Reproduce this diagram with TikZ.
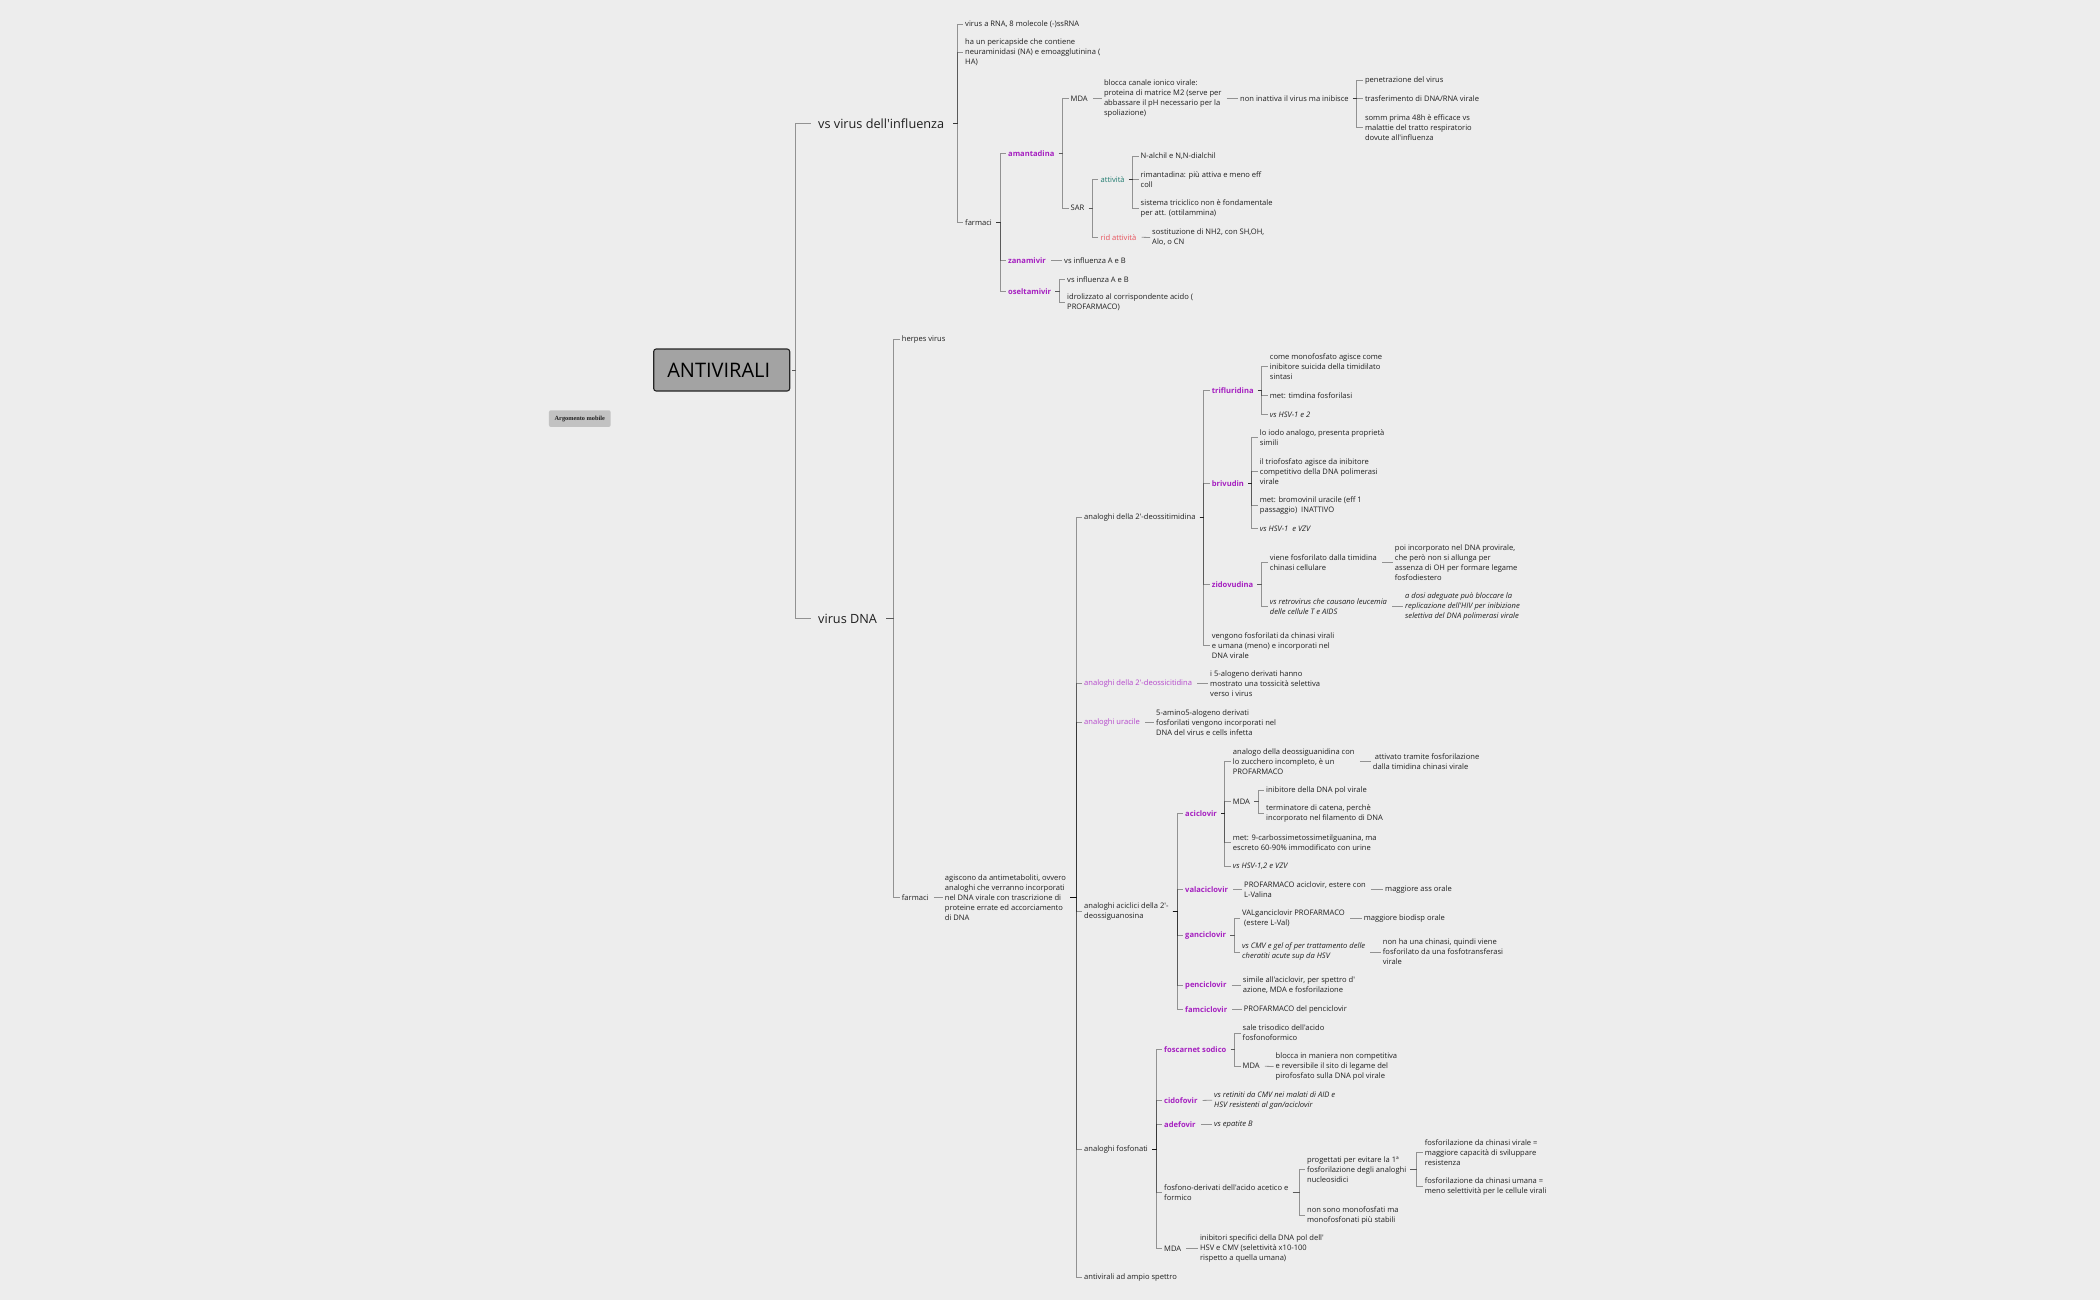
\documentclass[tikz,border=0pt]{standalone}
\usepackage{fontspec}
\usetikzlibrary{calc}
\newfontfamily\opensans{Open Sans}
\newfontfamily\tagserif{Liberation Serif}
\definecolor{canvas}{HTML}{EDEDED}
\definecolor{ink}{HTML}{1F1F1F}
\definecolor{drugcol}{HTML}{A51FC0}
\definecolor{classcol}{HTML}{B445CC}
\definecolor{goodcol}{HTML}{1E7A6E}
\definecolor{badcol}{HTML}{E8515B}
\tikzset{
	txt/.style={anchor=west, inner xsep=2pt, inner ysep=0pt, align=left, text=ink, font=\opensans\fontsize{7.58}{10}\selectfont},
	ital/.style={txt, font=\opensans\itshape\fontsize{7.58}{10}\selectfont},
	drug/.style={txt, text=drugcol, font=\opensans\bfseries\fontsize{7.58}{10}\selectfont},
	topic/.style={anchor=west, inner xsep=7pt, inner ysep=0pt, text=ink, font=\opensans\fontsize{12.7}{16}\selectfont},
	link/.style={draw=black, opacity=0.38, line width=0.8pt, shorten <=2pt},
	lead/.style={link, shorten <=3pt},
	elbow/.style={to path={-| ($(\tikztotarget)+(-#1,0)$) -- (\tikztotarget)}},
	elbow/.default=6
}
\begin{document}
\begin{tikzpicture}[x=1pt, y=-1pt]
	\fill[canvas] (0,-1.2) rectangle (2100,1298.8);
	\useasboundingbox (0,-1.2) rectangle (2100,1298.8);

	\node (tag) at (579.8,417.4) [rectangle, rounded corners=2pt, fill=black!24, minimum width=61.7pt, minimum height=16.7pt, inner sep=0pt, text=ink, font=\tagserif\bfseries\fontsize{6.3}{8}\selectfont] {Argomento mobile};
	\node (root) at (721.7,368.8) [rectangle, rounded corners=2.5pt, draw=black!85, line width=1.1pt, fill=black!36, minimum width=136pt, minimum height=42pt, inner sep=0pt, text=black, font=\opensans\fontsize{20}{24}\selectfont] {ANTIVIRALI\hspace{6pt}\null};

	\node (flu) at (811,122.3) [topic] {vs virus dell'influenza};
	\node (dna) at (811,617.3) [topic] {virus DNA};

	% influenza
	\node (rna) at (963,23.3) [txt] {virus a RNA, 8 molecole (-)ssRNA};
	\node (peri) at (963,51.3) [txt] {ha un pericapside che contiene\\neuraminidasi (NA) e emoagglutinina (\\HA)};
	\node (farmA) at (963,221) [txt] {farmaci};
	\node (amant) at (1006,152.3) [drug] {amantadina};
	\node (zana) at (1006,259.3) [drug] {zanamivir};
	\node (osel) at (1006,290) [drug] {oseltamivir};
	\node (mdaA) at (1068.5,97.3) [txt] {MDA};
	\node (sarA) at (1068.5,207) [txt] {SAR};
	\node (canale) at (1101.8,97.3) [txt] {blocca canale ionico virale:\\proteina di matrice M2 (serve per\\abbassare il pH necessario per la\\spoliazione)};
	\node (inatt) at (1238,97.3) [txt] {non inattiva il virus ma inibisce};
	\node (penet) at (1362.8,79.3) [txt] {penetrazione del virus};
	\node (trasf) at (1362.8,97.3) [txt] {trasferimento di DNA/RNA virale};
	\node (somm) at (1362.8,126.3) [txt] {somm prima 48h è efficace vs\\malattie del tratto respiratorio\\dovute all'influenza};
	\node (attiv) at (1098.4,178.3) [txt, text=goodcol] {attività};
	\node (ridatt) at (1098.4,236) [txt, text=badcol] {rid attività};
	\node (alchil) at (1138.5,155.3) [txt] {N-alchil e N,N-dialchil};
	\node (rimant) at (1138.5,178.3) [txt] {rimantadina: più attiva e meno eff\\coll};
	\node (tricic) at (1138.5,207.3) [txt] {sistema triciclico non è fondamentale\\per att. (ottilammina)};
	\node (sostit) at (1150,236.3) [txt] {sostituzione di NH2, con SH,OH,\\Alo, o CN};
	\node (zanaAB) at (1062,259.3) [txt] {vs influenza A e B};
	\node (oselAB) at (1065,278.3) [txt] {vs influenza A e B};
	\node (idrol) at (1065,301.3) [txt] {idrolizzato al corrispondente acido (\\PROFARMACO)};

	% virus DNA
	\node (herpes) at (899.7,338.3) [txt] {herpes virus};
	\node (farmB) at (899.7,896) [txt] {farmaci};
	\node (antim) at (942.7,896) [txt] {agiscono da antimetaboliti, ovvero\\analoghi che verranno incorporati\\nel DNA virale con trascrizione di\\proteine errate ed accorciamento\\di DNA};
	\node (timid) at (1082,516.3) [txt] {analoghi della 2'-deossitimidina};
	\node (citid) at (1082,682.3) [txt, text=classcol] {analoghi della 2'-deossicitidina};
	\node (uracil) at (1082,721.3) [txt, text=classcol] {analoghi uracile};
	\node (acicl) at (1082,910.3) [txt] {analoghi aciclici della 2'-\\deossiguanosina};
	\node (fosfon) at (1082,1148.3) [txt] {analoghi fosfonati};
	\node (ampio) at (1082,1276.3) [txt] {antivirali ad ampio spettro};

	% timidina
	\node (triflu) at (1209.7,389.3) [drug] {trifluridina};
	\node (brivu) at (1209.7,482.3) [drug] {brivudin};
	\node (zidov) at (1209.7,583) [drug] {zidovudina};
	\node (vengono) at (1209.7,644.3) [txt] {vengono fosforilati da chinasi virali\\e umana (meno) e incorporati nel\\DNA virale};
	\node (mono) at (1267.7,365.3) [txt] {come monofosfato agisce come\\inibitore suicida della timidilato\\sintasi};
	\node (timdina) at (1267.7,394) [txt] {met: timdina fosforilasi};
	\node (hsvA) at (1267.7,413.3) [ital] {vs HSV-1 e 2};
	\node (iodo) at (1257.7,436.3) [txt] {lo iodo analogo, presenta proprietà\\simili};
	\node (trifos) at (1257.7,470) [txt] {il triofosfato agisce da inibitore\\competitivo della DNA polimerasi\\virale};
	\node (bromo) at (1257.7,504.3) [txt] {met: bromovinil uracile (eff 1\\passaggio)\ \ INATTIVO};
	\node (hsvB) at (1257.7,527.3) [ital] {vs HSV-1\ \ e VZV};
	\node (viene) at (1267.7,561.3) [txt] {viene fosforilato dalla timidina\\chinasi cellulare};
	\node (provir) at (1392.7,561.3) [txt] {poi incorporato nel DNA provirale,\\che però non si allunga per\\assenza di OH per formare legame\\fosfodiestero};
	\node (retro) at (1267.7,605.3) [ital] {vs retrovirus che causano leucemia\\delle cellule T e AIDS};
	\node (dosi) at (1403,605.3) [ital] {a dosi adeguate può bloccare la\\replicazione dell'HIV per inibizione\\selettiva del DNA polimerasi virale};

	% citidina, uracile
	\node (alogeno) at (1208,682.3) [txt] {i 5-alogeno derivati hanno\\mostrato una tossicità selettiva\\verso i virus};
	\node (amino) at (1154,721.3) [txt] {5-amino5-alogeno derivati\\fosforilati vengono incorporati nel\\DNA del virus e cells infetta};

	% aciclici
	\node (aciclo) at (1183,812.3) [drug] {aciclovir};
	\node (valac) at (1183,888.3) [drug] {valaciclovir};
	\node (ganci) at (1183,934.3) [drug] {ganciclovir};
	\node (penci) at (1183,984.3) [drug] {penciclovir};
	\node (famci) at (1183,1008.3) [drug] {famciclovir};
	\node (analogo) at (1230.7,760.3) [txt] {analogo della deossiguanidina con\\lo zucchero incompleto, è un\\PROFARMACO};
	\node (tramite) at (1370.7,760.3) [txt] {\hspace*{2pt}attivato tramite fosforilazione\\dalla timidina chinasi virale};
	\node (mdaB) at (1230.7,800.3) [txt] {MDA};
	\node (inib) at (1264,789.3) [txt] {inibitore della DNA pol virale};
	\node (termin) at (1264,812.3) [txt] {terminatore di catena, perchè\\incorporato nel filamento di DNA};
	\node (carboss) at (1230.7,841.3) [txt] {met: 9-carbossimetossimetilguanina, ma\\escreto 60-90\% immodificato con urine};
	\node (hsvC) at (1230.7,865.3) [ital] {vs HSV-1,2 e VZV};
	\node (valina) at (1242,888.3) [txt] {PROFARMACO aciclovir, estere con\\L-Valina};
	\node (assor) at (1383,888.3) [txt] {maggiore ass orale};
	\node (valgan) at (1240,917.3) [txt] {VALganciclovir PROFARMACO\\\hspace*{2pt}(estere L-Val)};
	\node (biodisp) at (1361.7,917.3) [txt] {maggiore biodisp orale};
	\node (cmv) at (1240,950.7) [ital] {vs CMV e gel of per trattamento delle\\cheratiti acute sup da HSV};
	\node (nochin) at (1380.7,950.7) [txt] {non ha una chinasi, quindi viene\\fosforilato da una fosfotransferasi\\virale};
	\node (simile) at (1240.7,984.3) [txt] {simile all'aciclovir, per spettro d'\\azione, MDA e fosforilazione};
	\node (delpen) at (1241.7,1008.3) [txt] {PROFARMACO del penciclovir};

	% fosfonati
	\node (foscar) at (1162,1048.3) [drug] {foscarnet sodico};
	\node (cidof) at (1162,1099.3) [drug] {cidofovir};
	\node (adef) at (1162,1123.3) [drug] {adefovir};
	\node (deriv) at (1162,1191.3) [txt] {fosfono-derivati dell'acido acetico e\\formico};
	\node (mdaD) at (1162,1247.3) [txt] {MDA};
	\node (sale) at (1240.5,1031.7) [txt] {sale trisodico dell'acido\\fosfonoformico};
	\node (mdaC) at (1240.5,1065) [txt] {MDA};
	\node (blocca) at (1273.5,1065.3) [txt] {blocca in maniera non competitiva\\e reversibile il sito di legame del\\pirofosfato sulla DNA pol virale};
	\node (retin) at (1212,1099) [ital] {vs retiniti da CMV nei malati di AID e\\HSV resistenti al gan/aciclovir};
	\node (epat) at (1212,1123.3) [ital] {vs epatite B};
	\node (proget) at (1304.9,1168.3) [txt] {progettati per evitare la 1ª\\fosforilazione degli analoghi\\nucleosidici};
	\node (nomono) at (1304.9,1214.3) [txt] {non sono monofosfati ma\\monofosfonati più stabili};
	\node (chinv) at (1422.6,1151.3) [txt] {fosforilazione da chinasi virale =\\maggiore capacità di sviluppare\\resistenza};
	\node (chinu) at (1422.6,1185.3) [txt] {fosforilazione da chinasi umana =\\meno selettività per le cellule virali};
	\node (specif) at (1197.8,1247.3) [txt] {inibitori specifici della DNA pol dell'\\HSV e CMV (selettività x10-100\\rispetto a quella umana)};

	\draw[link] (root.east) to[elbow=16] (flu.west);
	\draw[link] (root.east) to[elbow=16] (dna.west);

	\draw[link] (flu.east) to[elbow] (rna.west);
	\draw[link] (flu.east) to[elbow] (peri.west);
	\draw[link] (flu.east) to[elbow] (farmA.west);
	\draw[link] (farmA.east) to[elbow] (amant.west);
	\draw[link] (farmA.east) to[elbow] (zana.west);
	\draw[link] (farmA.east) to[elbow] (osel.west);
	\draw[link] (amant.east) to[elbow] (mdaA.west);
	\draw[link] (amant.east) to[elbow] (sarA.west);
	\draw[lead] (mdaA.east) -- (canale.west);
	\draw[lead] (canale.east) -- (inatt.west);
	\draw[link] (inatt.east) to[elbow] (penet.west);
	\draw[link] (inatt.east) to[elbow] (trasf.west);
	\draw[link] (inatt.east) to[elbow] (somm.west);
	\draw[link] (sarA.east) to[elbow] (attiv.west);
	\draw[link] (sarA.east) to[elbow] (ridatt.west);
	\draw[link] (attiv.east) to[elbow] (alchil.west);
	\draw[link] (attiv.east) to[elbow] (rimant.west);
	\draw[link] (attiv.east) to[elbow] (tricic.west);
	\draw[lead] (ridatt.east) -- (sostit.west);
	\draw[lead] (zana.east) -- (zanaAB.west);
	\draw[link] (osel.east) to[elbow] (oselAB.west);
	\draw[link] (osel.east) to[elbow] (idrol.west);

	\draw[link] (dna.east) to[elbow] (herpes.west);
	\draw[link] (dna.east) to[elbow] (farmB.west);
	\draw[lead] (farmB.east) -- (antim.west);
	\draw[link] (antim.east) to[elbow] (timid.west);
	\draw[link] (antim.east) to[elbow] (citid.west);
	\draw[link] (antim.east) to[elbow] (uracil.west);
	\draw[link] (antim.east) to[elbow] (acicl.west);
	\draw[link] (antim.east) to[elbow] (fosfon.west);
	\draw[link] (antim.east) to[elbow] (ampio.west);

	\draw[link] (timid.east) to[elbow] (triflu.west);
	\draw[link] (timid.east) to[elbow] (brivu.west);
	\draw[link] (timid.east) to[elbow] (zidov.west);
	\draw[link] (timid.east) to[elbow] (vengono.west);
	\draw[link] (triflu.east) to[elbow] (mono.west);
	\draw[link] (triflu.east) to[elbow] (timdina.west);
	\draw[link] (triflu.east) to[elbow] (hsvA.west);
	\draw[link] (brivu.east) to[elbow] (iodo.west);
	\draw[link] (brivu.east) to[elbow] (trifos.west);
	\draw[link] (brivu.east) to[elbow] (bromo.west);
	\draw[link] (brivu.east) to[elbow] (hsvB.west);
	\draw[link] (zidov.east) to[elbow] (viene.west);
	\draw[link] (zidov.east) to[elbow] (retro.west);
	\draw[lead] (viene.east) -- (provir.west);
	\draw[lead] (retro.east) -- (dosi.west);

	\draw[lead] (citid.east) -- (alogeno.west);
	\draw[lead] (uracil.east) -- (amino.west);

	\draw[link] (acicl.east) to[elbow] (aciclo.west);
	\draw[link] (acicl.east) to[elbow] (valac.west);
	\draw[link] (acicl.east) to[elbow] (ganci.west);
	\draw[link] (acicl.east) to[elbow] (penci.west);
	\draw[link] (acicl.east) to[elbow] (famci.west);
	\draw[link] (aciclo.east) to[elbow] (analogo.west);
	\draw[link] (aciclo.east) to[elbow] (mdaB.west);
	\draw[link] (aciclo.east) to[elbow] (carboss.west);
	\draw[link] (aciclo.east) to[elbow] (hsvC.west);
	\draw[lead] (analogo.east) -- (tramite.west);
	\draw[link] (mdaB.east) to[elbow] (inib.west);
	\draw[link] (mdaB.east) to[elbow] (termin.west);
	\draw[lead] (valac.east) -- (valina.west);
	\draw[lead] (valina.east) -- (assor.west);
	\draw[link] (ganci.east) to[elbow] (valgan.west);
	\draw[link] (ganci.east) to[elbow] (cmv.west);
	\draw[lead] (valgan.east) -- (biodisp.west);
	\draw[lead] (cmv.east) -- (nochin.west);
	\draw[lead] (penci.east) -- (simile.west);
	\draw[lead] (famci.east) -- (delpen.west);

	\draw[link] (fosfon.east) to[elbow] (foscar.west);
	\draw[link] (fosfon.east) to[elbow] (cidof.west);
	\draw[link] (fosfon.east) to[elbow] (adef.west);
	\draw[link] (fosfon.east) to[elbow] (deriv.west);
	\draw[link] (fosfon.east) to[elbow] (mdaD.west);
	\draw[link] (foscar.east) to[elbow] (sale.west);
	\draw[link] (foscar.east) to[elbow] (mdaC.west);
	\draw[lead] (mdaC.east) -- (blocca.west);
	\draw[lead] (cidof.east) -- (retin.west);
	\draw[lead] (adef.east) -- (epat.west);
	\draw[link] (deriv.east) to[elbow] (proget.west);
	\draw[link] (deriv.east) to[elbow] (nomono.west);
	\draw[link] (proget.east) to[elbow] (chinv.west);
	\draw[link] (proget.east) to[elbow] (chinu.west);
	\draw[lead] (mdaD.east) -- (specif.west);
\end{tikzpicture}
\end{document}
